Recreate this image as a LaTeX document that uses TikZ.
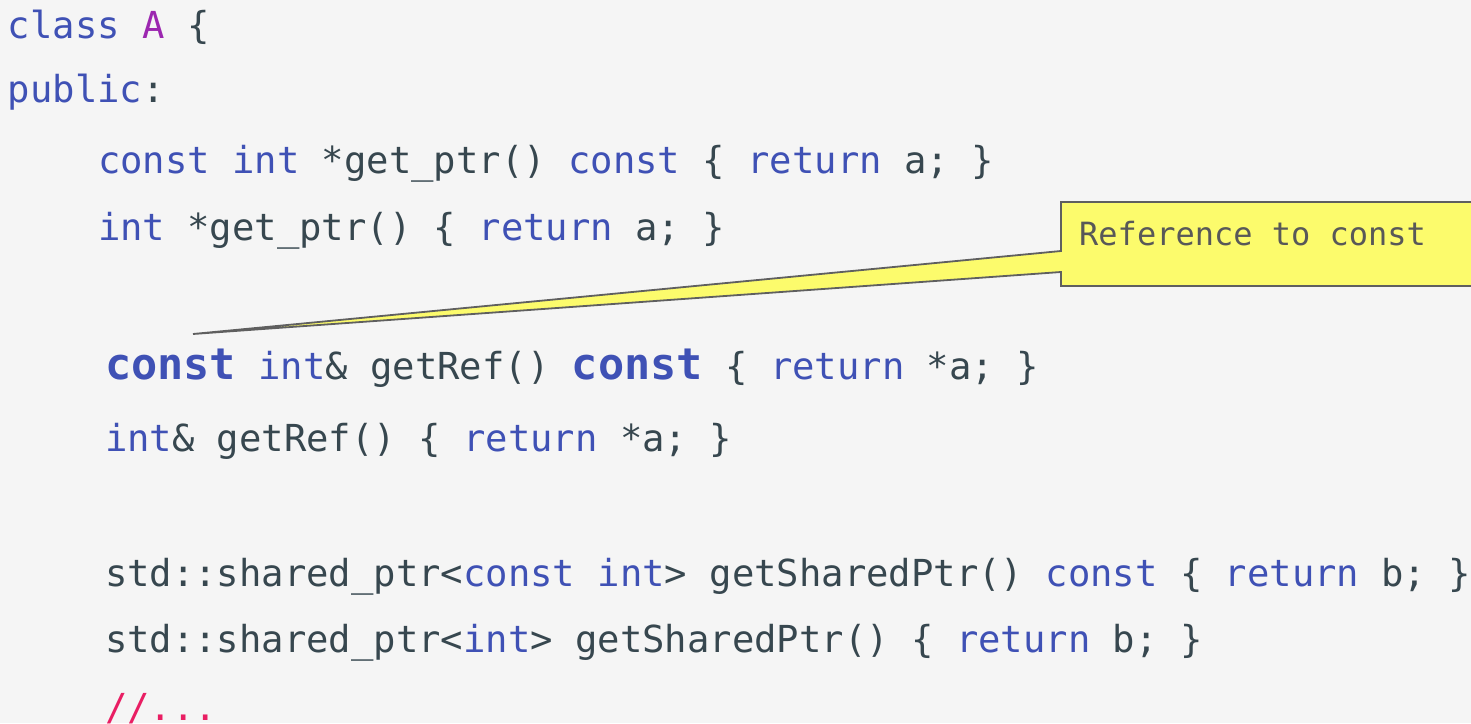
\documentclass[tikz,border=0pt]{standalone}
\usepackage{fontspec}
\newfontfamily\codefont{DejaVu Sans Mono}
\definecolor{bg}{RGB}{245,245,245}
\definecolor{kwblue}{RGB}{63,81,181}
\definecolor{txdark}{RGB}{55,71,79}
\definecolor{clspurple}{RGB}{156,39,176}
\definecolor{cmtpink}{RGB}{233,30,99}
\definecolor{noteyellow}{RGB}{252,251,108}
\definecolor{noteline}{RGB}{95,95,95}
\definecolor{notetext}{RGB}{88,88,88}
\newcommand{\kw}[1]{\textcolor{kwblue}{#1}}
\newcommand{\tx}[1]{\textcolor{txdark}{#1}}
\newcommand{\clsname}[1]{\textcolor{clspurple}{#1}}
\newcommand{\cmt}[1]{\textcolor{cmtpink}{#1}}
\newcommand{\bkw}[1]{{\fontsize{43.5}{43.5}\selectfont\bfseries\textcolor{kwblue}{#1}}}
\tikzset{
  codeline/.style={anchor=base west, inner sep=0pt, outer sep=0pt,
    font=\codefont\fontsize{37.2}{37.2}\selectfont, text=txdark},
  notetxt/.style={anchor=base west, inner sep=0pt,
    font=\codefont\fontsize{32}{32}\selectfont, text=notetext},
  callout/.style={fill=noteyellow, draw=noteline, line width=1.8pt, line join=miter}
}
\begin{document}
\begin{tikzpicture}[x=1pt,y=-1pt]
\clip (0,0) rectangle (1471,723);
\fill[bg] (0,0) rectangle (1471,723);
% callout
\coordinate (boxtl) at (1061,202);
\coordinate (boxbr) at (1490,286);
\coordinate (tip) at (193,334);
\coordinate (ptop) at (1061,251);
\coordinate (pbot) at (1061,272);
\draw[callout] (boxtl) -- (boxtl -| boxbr) -- (boxbr) -- (boxbr -| boxtl) -- (pbot) -- (tip) -- (ptop) -- cycle;
\node[notetxt] (note) at (1079,245) {Reference to const};
% code lines
\node[codeline] (l1) at (8,38) {\kw{class} \clsname{A} \tx{\{}};
\node[codeline] (l2) at (8,102) {\kw{public}\tx{:}};
\node[codeline] (l3) at (98,173) {\kw{const} \kw{int} \tx{*get\_ptr()} \kw{const} \tx{\{} \kw{return} \tx{a; \}}};
\node[codeline] (l4) at (98,240) {\kw{int} \tx{*get\_ptr() \{} \kw{return} \tx{a; \}}};
\node[codeline] (l5) at (105,379) {\bkw{const} \kw{int}\tx{\& getRef()} \bkw{const} \tx{\{} \kw{return} \tx{*a; \}}};
\node[codeline] (l6) at (105,451) {\kw{int}\tx{\& getRef() \{} \kw{return} \tx{*a; \}}};
\node[codeline] (l7) at (105,586) {\tx{std::shared\_ptr<}\kw{const} \kw{int}\tx{> getSharedPtr()} \kw{const} \tx{\{} \kw{return} \tx{b; \}}};
\node[codeline] (l8) at (105,652) {\tx{std::shared\_ptr<}\kw{int}\tx{> getSharedPtr() \{} \kw{return} \tx{b; \}}};
\node[codeline] (l9) at (105,720) {\cmt{//...}};
\end{tikzpicture}
\end{document}
